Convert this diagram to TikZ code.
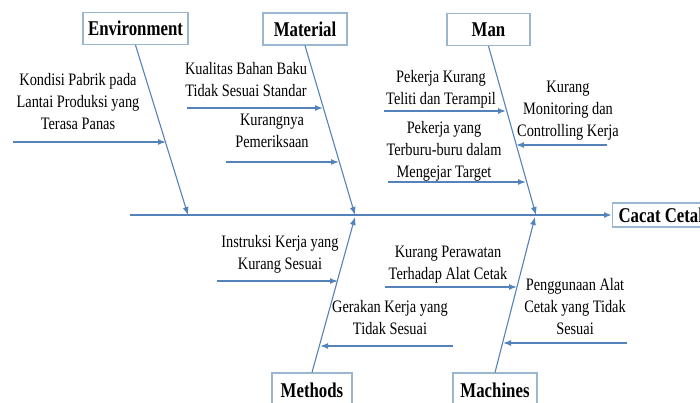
\documentclass[tikz,border=0pt]{standalone}
\usepackage{fontspec}
\setmainfont{Liberation Serif}[FakeStretch=0.82]
\newfontfamily\headfont{Liberation Serif}[FakeStretch=0.8]
\usepackage{tikz}
\usetikzlibrary{arrows.meta,calc}
\definecolor{bonecol}{RGB}{84,130,186}
\definecolor{boxcol}{RGB}{155,183,208}
\tikzstyle{cause} = [draw=boxcol, line width=1.2pt, fill=white, minimum height=32pt, inner sep=0pt, font=\headfont\fontsize{21}{24}\selectfont\bfseries]
\tikzstyle{reason} = [align=center, inner sep=0pt, font=\fontsize{17.5}{22}\selectfont]
\tikzstyle{bone} = [draw=bonecol, line width=1.1pt, -{Latex[length=8pt,width=6pt]}]
\tikzstyle{arrow} = [draw=bonecol, line width=1.5pt, -{Latex[length=8pt,width=6pt]}]
\begin{document}
\begin{tikzpicture}[x=1pt,y=-1pt]
\useasboundingbox (0,0) rectangle (700,403);
\clip (0,0) rectangle (700,403);
\node[cause, minimum width=105pt] (env) at (135.5,28.5) {Environment};
\node[cause, minimum width=84pt] (mat) at (305,29) {Material};
\node[cause, minimum width=83pt] (man) at (488.5,29.5) {Man};
\node[cause, minimum width=80pt, minimum height=34pt] (met) at (312,390) {Methods};
\node[cause, minimum width=84pt, minimum height=34pt] (mac) at (495,390) {Machines};
\node[cause, anchor=west, minimum height=24pt, inner xsep=6pt] (cacat) at (612,215) {Cacat Cetak};
\coordinate (tail) at (130,215);
\coordinate (envhead) at (188,215);
\coordinate (mathead) at (355,215);
\coordinate (manhead) at (536,215);
\coordinate (methead) at (355,217);
\coordinate (machead) at (535,217);
\draw[arrow, line width=2pt] (tail)--(cacat);
\draw[bone] (env.south)--(envhead);
\draw[bone] (mat.south)--(mathead);
\draw[bone] (man.south)--(manhead);
\draw[bone] (met.north)--(methead);
\draw[bone] (mac.north)--(machead);
\node[reason] (t1) at (78,102) {Kondisi Pabrik pada\\Lantai Produksi yang\\Terasa Panas};
\node[reason] (t2) at (246,80) {Kualitas Bahan Baku\\Tidak Sesuai Standar};
\node[reason] (t3) at (272,131) {Kurangnya\\Pemeriksaan};
\node[reason] (t4) at (441,89) {Pekerja Kurang\\Teliti dan Terampil};
\node[reason] (t5) at (568,111) {Kurang\\Monitoring dan\\Controlling Kerja};
\node[reason] (t6) at (444,151) {Pekerja yang\\Terburu-buru dalam\\Mengejar Target};
\node[reason] (t7) at (280,254) {Instruksi Kerja yang\\Kurang Sesuai};
\node[reason] (t8) at (390,318) {Gerakan Kerja yang\\Tidak Sesuai};
\node[reason] (t9) at (448,265) {Kurang Perawatan\\Terhadap Alat Cetak};
\node[reason] (t10) at (575,307) {Penggunaan Alat\\Cetak yang Tidak\\Sesuai};
\coordinate (k1s) at (13,142);
\coordinate (k1e) at (166,142);
\coordinate (k2s) at (187,108);
\coordinate (k2e) at (323,108);
\coordinate (k3s) at (226,162);
\coordinate (k3e) at (339,162);
\coordinate (k4s) at (384,111);
\coordinate (k4e) at (506,111);
\coordinate (k5s) at (607,145);
\coordinate (k5e) at (516,145);
\coordinate (k6s) at (388,182);
\coordinate (k6e) at (526,182);
\coordinate (k7s) at (217,281);
\coordinate (k7e) at (338,281);
\coordinate (k8s) at (453,346);
\coordinate (k8e) at (320,346);
\coordinate (k9s) at (385,287);
\coordinate (k9e) at (517,287);
\coordinate (k10s) at (627,343);
\coordinate (k10e) at (503,343);
\draw[arrow] (k1s)--(k1e);
\draw[arrow] (k2s)--(k2e);
\draw[arrow] (k3s)--(k3e);
\draw[arrow] (k4s)--(k4e);
\draw[arrow] (k5s)--(k5e);
\draw[arrow] (k6s)--(k6e);
\draw[arrow] (k7s)--(k7e);
\draw[arrow] (k8s)--(k8e);
\draw[arrow] (k9s)--(k9e);
\draw[arrow] (k10s)--(k10e);
\end{tikzpicture}
\end{document}
